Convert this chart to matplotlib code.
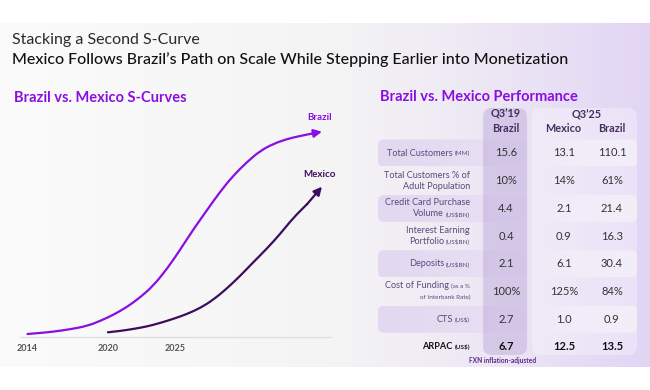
import numpy as np
import matplotlib
matplotlib.use('Agg')
from matplotlib import pyplot as plt
from matplotlib.patches import FancyBboxPatch, PathPatch
from matplotlib.path import Path
import matplotlib.colors as mcolors

plt.rcParams['font.family'] = ['Lato', 'DejaVu Sans']

# S-curve values (index, arbitrary scale)
brazil_years = [2014.0, 2014.93, 2015.9, 2017.17, 2018.44, 2019.41, 2020.38, 2021.42,
                2022.39, 2023.36, 2024.4, 2025.37, 2026.34, 2027.39, 2028.35, 2029.32,
                2030.37, 2031.34, 2032.31, 2033.35, 2034.32, 2035.14, 2035.96]
brazil_vals = [1.35, 1.85, 2.5, 3.7, 5.35, 7.85, 10.85, 14.85, 19.6, 25.35, 33.85, 43.35,
               53.35, 63.35, 72.35, 80.35, 87.35, 92.85, 96.35, 98.85, 100.35, 101.45, 102.5]
mexico_years = [2020.0, 2020.9, 2021.87, 2022.91, 2023.88, 2024.85, 2025.9, 2026.88,
                2027.83, 2028.87, 2029.85, 2030.82, 2031.86, 2032.84, 2033.81, 2034.86, 2035.96]
mexico_vals = [2.2, 2.85, 3.85, 5.1, 6.85, 8.85, 11.35, 14.35, 18.35, 24.1, 30.35, 37.1,
               44.1, 51.35, 59.35, 66.35, 75.0]
year_ticks = [2014, 2020, 2025]

# performance table
row_labels = [('Total Customers', '(MM)'),
              ('Total Customers % of\nAdult Population', ''),
              ('Credit Card Purchase\nVolume', '(US$BN)'),
              ('Interest Earning\nPortfolio', '(US$BN)'),
              ('Deposits', '(US$BN)'),
              ('Cost of Funding', '(as a %\nof Interbank Rate)'),
              ('CTS', '(US$)'),
              ('ARPAC', '(US$)')]
brazil_q319 = ['15.6', '10%', '4.4', '0.4', '2.1', '100%', '2.7', '6.7']
mexico_q325 = ['13.1', '14%', '2.1', '0.9', '6.1', '125%', '1.0', '12.5']
brazil_q325 = ['110.1', '61%', '21.4', '16.3', '30.4', '84%', '0.9', '13.5']

BR_PURPLE = '#8a0ee0'
MX_PURPLE = '#3b0d5e'
LABEL_C = '#5a4a7c'
HEAD_C = '#43305f'


def smooth_path(xs, ys):
    # quadratic bezier through midpoints, control points are the data points
    pts = np.column_stack([xs, ys])
    verts = [pts[0]]
    codes = [Path.MOVETO]
    for i in range(1, len(pts) - 1):
        verts += [pts[i], (pts[i] + pts[i + 1]) / 2]
        codes += [Path.CURVE3, Path.CURVE3]
    verts.append(pts[-1])
    codes.append(Path.LINETO)
    return Path(verts, codes)


fig = plt.figure(figsize=(6.5, 3.9), dpi=100)
bg = fig.add_axes([0, 0, 1, 1])
bg.set_xlim(0, 650)
bg.set_ylim(390, 0)
bg.axis('off')

# background gradient band
xs = np.linspace(0, 650, 650)
stops_x = [0, 330, 450, 650]
stops_c = [mcolors.to_rgb(c) for c in ['#fbfbfb', '#f4f4f5', '#efebf4', '#e2d5f4']]
grad = np.stack([np.interp(xs, stops_x, [c[i] for c in stops_c]) for i in range(3)], axis=-1)
bg.imshow(grad[np.newaxis, :, :].repeat(2, axis=0), extent=(0, 650, 367, 23),
          aspect='auto', zorder=0)

# titles
fig.text(12 / 650, 1 - 40 / 390, 'Stacking a Second S-Curve', fontsize=11.5,
         color='#2a2a2a', va='center', ha='left')
fig.text(12 / 650, 1 - 60 / 390,
         'Mexico Follows Brazil\u2019s Path on Scale While Stepping Earlier into Monetization',
         fontsize=11.5, color='#111111', va='center', ha='left', fontweight='medium')
fig.text(14 / 650, 1 - 98 / 390, 'Brazil vs. Mexico S-Curves', fontsize=10.5,
         color=BR_PURPLE, fontweight='bold', va='center', ha='left')
fig.text(380 / 650, 1 - 97 / 390, 'Brazil vs. Mexico Performance', fontsize=10.5,
         color=BR_PURPLE, fontweight='bold', va='center', ha='left')

# ---- S-curve chart ----
ax = fig.add_axes([20 / 650, 1 - 336.7 / 390, 310 / 650, 226.7 / 390])
ax.patch.set_alpha(0)
ax.set_xlim(2013.44, 2036.56)
ax.set_ylim(0, 113.35)
for s in ['top', 'right', 'left']:
    ax.spines[s].set_visible(False)
ax.spines['bottom'].set_color('#e0e0e2')
ax.spines['bottom'].set_linewidth(1)
ax.set_yticks([])
ax.set_xticks(year_ticks)
ax.set_xticklabels([str(y) for y in year_ticks], fontsize=6.5, color='#555555',
                   fontweight='bold')
ax.tick_params(axis='x', length=0, pad=5)

for yrs, vals, col, name, off in [(brazil_years, brazil_vals, BR_PURPLE, 'Brazil', 14),
                                  (mexico_years, mexico_vals, MX_PURPLE, 'Mexico', 12)]:
    ax.add_patch(PathPatch(smooth_path(yrs[:-1], vals[:-1]), fill=False, ec=col, lw=1.6,
                           capstyle='round', joinstyle='round', clip_on=False))
    ax.annotate('', xy=(yrs[-1], vals[-1]), xytext=(yrs[-2], vals[-2]),
                arrowprops=dict(arrowstyle='-|>', color=col, lw=1.6,
                                mutation_scale=12, shrinkA=0, shrinkB=0),
                annotation_clip=False)
    ax.annotate(name, xy=(yrs[-1], vals[-1]), xytext=(-2, off), textcoords='offset pixels',
                ha='center', va='center', fontsize=7, fontweight='bold', color=col,
                annotation_clip=False)

# ---- performance table ----
row_y = [153 + i * 27.7 for i in range(len(row_labels))]
band_grad = np.stack([np.linspace(a, b, 100) for a, b in
                      zip(mcolors.to_rgb('#e2d8f0'), mcolors.to_rgb('#eee8f7'))], axis=-1)
for i in range(0, len(row_labels) - 1, 2):
    y0 = row_y[i] - 13.5
    patch = FancyBboxPatch((378, y0), 259, 27, boxstyle='round,pad=0,rounding_size=6',
                           fc='none', ec='none')
    bg.add_patch(patch)
    im = bg.imshow(band_grad[np.newaxis].repeat(2, axis=0), extent=(378, 637, y0 + 27, y0),
                   aspect='auto', zorder=1)
    im.set_clip_path(patch)

bg.add_patch(FancyBboxPatch((532, 108), 105, 247, boxstyle='round,pad=0,rounding_size=9',
                            fc='white', alpha=0.3, ec='none', zorder=2))
bg.add_patch(FancyBboxPatch((483, 108), 44, 247, boxstyle='round,pad=0,rounding_size=9',
                            fc='#b39bd3', alpha=0.38, ec='none', zorder=2))

# headers
for x, y, s in [(506, 114, 'Q3\u201919'), (506, 128, 'Brazil'), (587, 115, 'Q3\u201925'),
                (563, 128, 'Mexico'), (612, 128, 'Brazil')]:
    bg.text(x, y, s, ha='center', va='center', fontsize=7.8, fontweight='bold',
            color=HEAD_C, zorder=3)

renderer = fig.canvas.get_renderer()
lab_x = 470
for i, (main, unit) in enumerate(row_labels):
    y = row_y[i]
    last = i == len(row_labels) - 1
    col = '#111111' if last else LABEL_C
    wt = 'bold' if last else 'normal'
    main_lines = main.split('\n')
    unit_lines = unit.split('\n') if unit else ['']
    n = max(len(main_lines), len(unit_lines))
    ys = [y] if n == 1 else [y - 5.5, y + 5.5]
    if len(main_lines) == 2:
        bg.text(lab_x, ys[0], main_lines[0], ha='right', va='center', fontsize=6.6,
                color=col, fontweight=wt, zorder=3)
        line_y = ys[1]
    else:
        line_y = ys[0]
    gap = 0
    if unit_lines[0]:
        t = bg.text(lab_x, line_y, unit_lines[0].replace('$', r'\$'), ha='right',
                    va='center', fontsize=4.6, color=col, fontweight=wt, zorder=3)
        bb = t.get_window_extent(renderer)
        gap = bb.width + 2
    bg.text(lab_x - gap, line_y, main_lines[-1], ha='right', va='center', fontsize=6.6,
            color=col, fontweight=wt, zorder=3)
    if len(unit_lines) == 2:
        bg.text(lab_x, ys[1], unit_lines[1], ha='right', va='center', fontsize=4.6,
                color=col, zorder=3)

    vc = '#111111' if last else '#333333'
    for x, vals in [(506, brazil_q319), (564, mexico_q325), (612, brazil_q325)]:
        bg.text(x, y, vals[i], ha='center', va='center', fontsize=8, color=vc,
                fontweight=wt, zorder=3)

bg.text(503, 361, 'FXN inflation-adjusted', ha='center', va='center', fontsize=4.8,
        fontweight='bold', color='#5b2a8a', zorder=3)

fig.savefig('out.png', dpi=100)
